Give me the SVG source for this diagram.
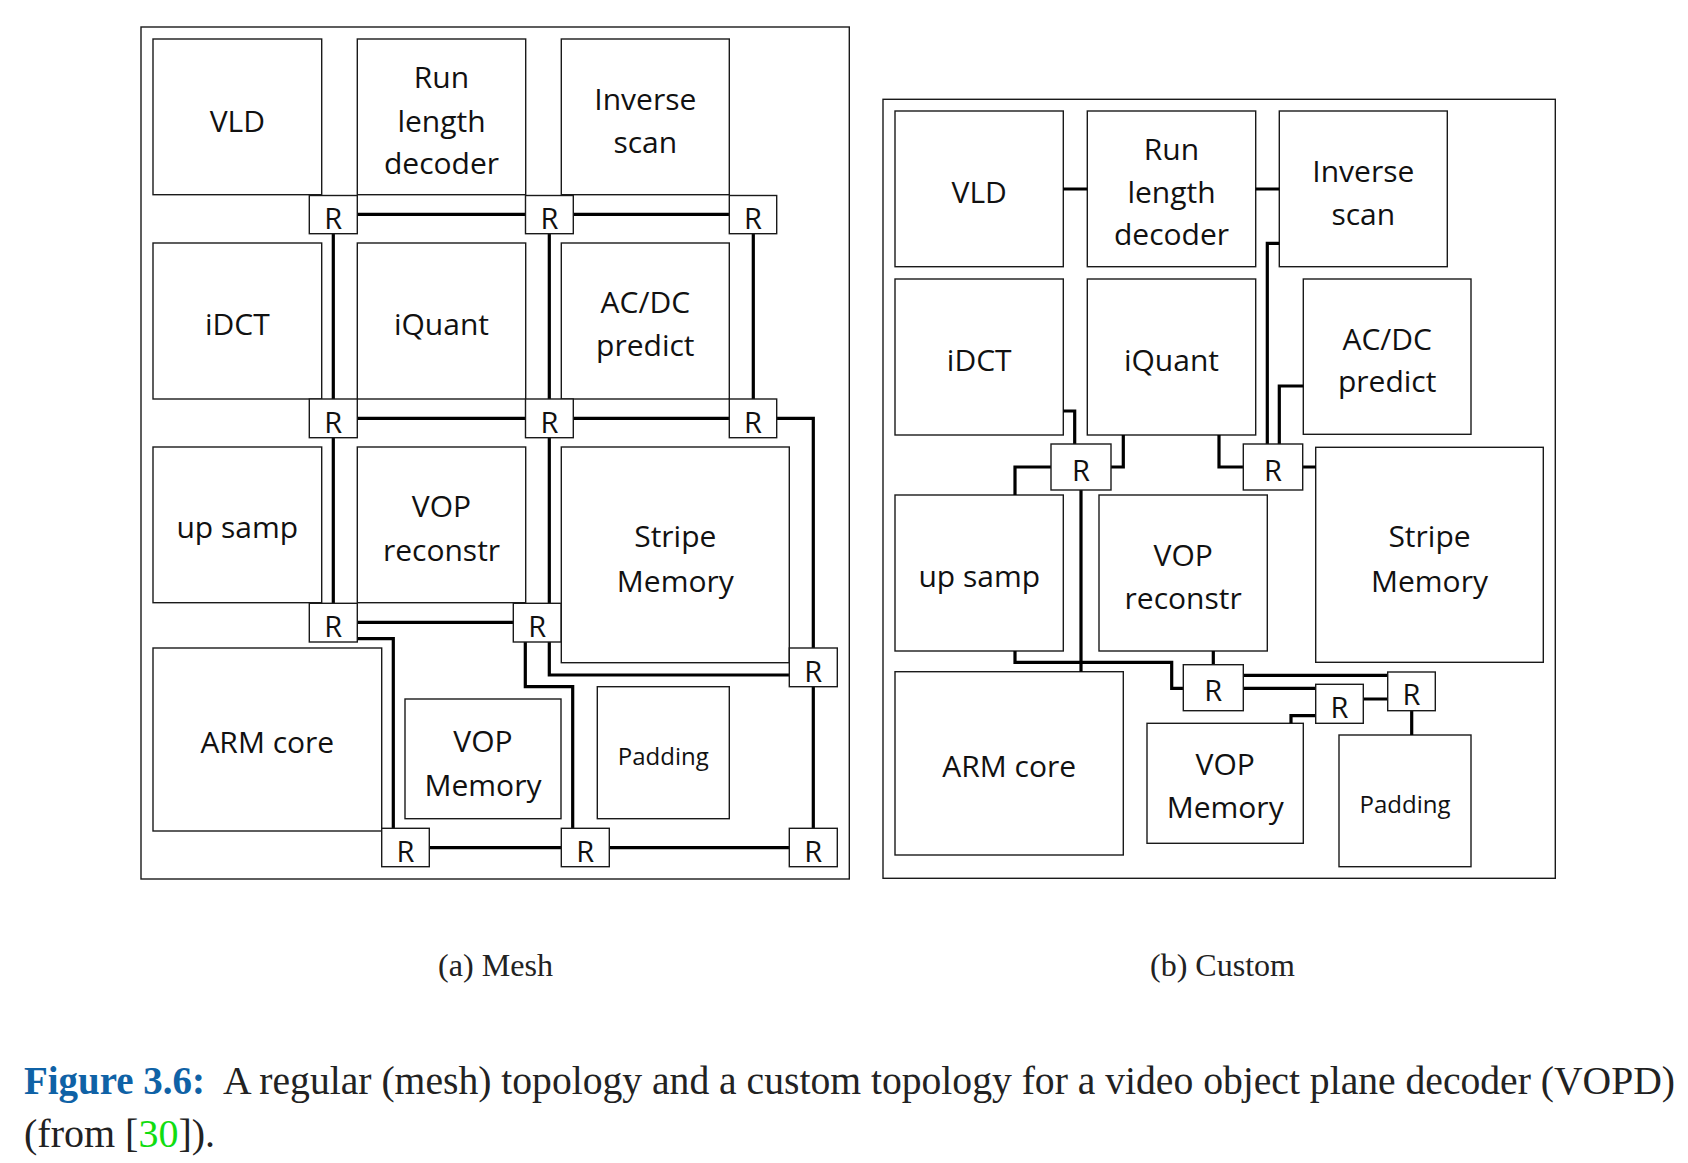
<svg xmlns="http://www.w3.org/2000/svg" width="1688" height="1163" viewBox="0 0 1688 1163">
<style>
.bx{fill:#fff;stroke:#1a1a1a;stroke-width:1.4}
.fr{fill:#fff;stroke:#1a1a1a;stroke-width:1.4}
.rt{fill:#fff;stroke:#1a1a1a;stroke-width:1.4}
.t{font-family:"Open Sans","Noto Sans",sans-serif;font-size:30px;fill:#111;text-anchor:middle}
.ts{font-family:"Open Sans","Noto Sans",sans-serif;font-size:24px;fill:#111;text-anchor:middle}
.tr{font-family:"Open Sans","Noto Sans",sans-serif;font-size:29px;fill:#111;text-anchor:middle}
.c{fill:none;stroke:#000;stroke-width:3.2}
.cap{font-family:"Liberation Serif","Times New Roman",serif;fill:#222}
</style>
<rect width="1688" height="1163" fill="#fff"/>

<!-- (a) Mesh -->
<g id="frameA"><rect class="fr" x="141" y="27" width="708.3" height="852"/></g>
<g id="a-vld"><rect class="bx" x="153" y="39" width="168.7" height="155.7"/><text class="t" x="237.3" y="132.3">VLD</text></g>
<g id="a-rld"><rect class="bx" x="357.3" y="39" width="168.4" height="155.7"/><text class="t" x="441.5" y="88.3">Run</text><text class="t" x="441.5" y="131.7">length</text><text class="t" x="441.5" y="174">decoder</text></g>
<g id="a-inv"><rect class="bx" x="561.3" y="39" width="168" height="155.7"/><text class="t" x="645.3" y="110">Inverse</text><text class="t" x="645.3" y="153.3">scan</text></g>
<g id="a-idct"><rect class="bx" x="153" y="243" width="168.7" height="156"/><text class="t" x="237.3" y="335">iDCT</text></g>
<g id="a-iq"><rect class="bx" x="357.3" y="243" width="168.4" height="156"/><text class="t" x="441.5" y="335">iQuant</text></g>
<g id="a-acdc"><rect class="bx" x="561.3" y="243" width="168" height="156"/><text class="t" x="645.3" y="313">AC/DC</text><text class="t" x="645.3" y="356">predict</text></g>
<g id="a-up"><rect class="bx" x="153" y="447" width="168.7" height="155.7"/><text class="t" x="237.3" y="538.3">up samp</text></g>
<g id="a-vopr"><rect class="bx" x="357.3" y="447" width="168.4" height="155.7"/><text class="t" x="441.5" y="517">VOP</text><text class="t" x="441.5" y="561">reconstr</text></g>
<g id="a-stripe"><rect class="bx" x="561.3" y="447" width="228" height="215.7"/><text class="t" x="675.3" y="547.3">Stripe</text><text class="t" x="675.3" y="591.7">Memory</text></g>
<g id="a-arm"><rect class="bx" x="153" y="648" width="228.7" height="183"/><text class="t" x="267.3" y="753.3">ARM core</text></g>
<g id="a-vopm"><rect class="bx" x="405" y="699" width="156" height="119.7"/><text class="t" x="483" y="751.7">VOP</text><text class="t" x="483" y="795.7">Memory</text></g>
<g id="a-pad"><rect class="bx" x="597.3" y="686.7" width="132" height="132"/><text class="ts" x="663.3" y="765">Padding</text></g>

<g id="a-connectors">
<path class="c" d="M357.3,214.3H525.5M573.3,214.3H729.3M333.3,233.7V399M549.3,233.7V399M753.3,233.7V399M357.3,418.3H525.5M573.3,418.3H729.3M776.7,418.3H813.3V648M333.3,437.7V603.3M549.3,437.7V603.3M357.3,622.3H513.3M357.3,638.7H393.3V828.3M525.3,642V686.7H572.7V828.3M549.3,642V675H789.3M813.3,686.7V828.3M429.3,847.7H561.3M609.3,847.7H789.3"/>
</g>

<g id="a-r11"><rect class="rt" x="309.3" y="195.5" width="48" height="38.2"/><text class="tr" x="333.3" y="228.8">R</text></g>
<g id="a-r12"><rect class="rt" x="525.5" y="195.5" width="47.8" height="38.2"/><text class="tr" x="549.4" y="228.8">R</text></g>
<g id="a-r13"><rect class="rt" x="729.3" y="195.5" width="47.4" height="38.2"/><text class="tr" x="753" y="228.8">R</text></g>
<g id="a-r21"><rect class="rt" x="309.3" y="399" width="48" height="38.7"/><text class="tr" x="333.3" y="432.8">R</text></g>
<g id="a-r22"><rect class="rt" x="525.5" y="399" width="47.8" height="38.7"/><text class="tr" x="549.4" y="432.8">R</text></g>
<g id="a-r23"><rect class="rt" x="729.3" y="399" width="47.4" height="38.7"/><text class="tr" x="753" y="432.8">R</text></g>
<g id="a-r31"><rect class="rt" x="309.3" y="603.3" width="48" height="38.7"/><text class="tr" x="333.3" y="637">R</text></g>
<g id="a-r32"><rect class="rt" x="513.3" y="603.3" width="47.7" height="38.7"/><text class="tr" x="537.2" y="637">R</text></g>
<g id="a-rr"><rect class="rt" x="789.3" y="648" width="48" height="38.7"/><text class="tr" x="813.3" y="681.8">R</text></g>
<g id="a-rb1"><rect class="rt" x="381.7" y="828.3" width="47.6" height="38.4"/><text class="tr" x="405.5" y="861.8">R</text></g>
<g id="a-rb2"><rect class="rt" x="561.3" y="828.3" width="48" height="38.4"/><text class="tr" x="585.3" y="861.8">R</text></g>
<g id="a-rb3"><rect class="rt" x="789.3" y="828.3" width="48" height="38.4"/><text class="tr" x="813.3" y="861.8">R</text></g>

<!-- (b) Custom -->
<g id="frameB"><rect class="fr" x="883" y="99.3" width="672.3" height="779"/></g>
<g id="b-vld"><rect class="bx" x="895" y="111" width="168.3" height="155.7"/><text class="t" x="979.2" y="203.3">VLD</text></g>
<g id="b-rld"><rect class="bx" x="1087.3" y="111" width="168.4" height="155.7"/><text class="t" x="1171.5" y="160">Run</text><text class="t" x="1171.5" y="203.3">length</text><text class="t" x="1171.5" y="245">decoder</text></g>
<g id="b-inv"><rect class="bx" x="1279.3" y="111" width="168" height="155.7"/><text class="t" x="1363.3" y="181.7">Inverse</text><text class="t" x="1363.3" y="225">scan</text></g>
<g id="b-idct"><rect class="bx" x="895" y="279" width="168.3" height="156"/><text class="t" x="979.2" y="371">iDCT</text></g>
<g id="b-iq"><rect class="bx" x="1087.3" y="279" width="168.4" height="156"/><text class="t" x="1171.5" y="371">iQuant</text></g>
<g id="b-acdc"><rect class="bx" x="1303.3" y="279" width="167.7" height="155.3"/><text class="t" x="1387.2" y="350">AC/DC</text><text class="t" x="1387.2" y="391.7">predict</text></g>
<g id="b-up"><rect class="bx" x="895" y="495" width="168.3" height="156"/><text class="t" x="979.2" y="586.7">up samp</text></g>
<g id="b-vopr"><rect class="bx" x="1099" y="495" width="168.3" height="156"/><text class="t" x="1183.2" y="566">VOP</text><text class="t" x="1183.2" y="609.3">reconstr</text></g>
<g id="b-stripe"><rect class="bx" x="1315.7" y="447.3" width="227.6" height="215"/><text class="t" x="1429.5" y="547.3">Stripe</text><text class="t" x="1429.5" y="591.7">Memory</text></g>
<g id="b-arm"><rect class="bx" x="895" y="671.7" width="228.3" height="183.3"/><text class="t" x="1009.2" y="777.3">ARM core</text></g>
<g id="b-vopm"><rect class="bx" x="1147" y="723.3" width="156.3" height="120"/><text class="t" x="1225.2" y="775">VOP</text><text class="t" x="1225.2" y="818.3">Memory</text></g>
<g id="b-pad"><rect class="bx" x="1339" y="735" width="132" height="131.7"/><text class="ts" x="1405" y="813.3">Padding</text></g>

<g id="b-connectors">
<path class="c" d="M1063.3,189H1087.3M1255.7,189H1279.3M1063.3,411H1074.7V444M1123.3,435V467H1111M1051,467H1015V495M1081,490V671.7M1219,435V467H1243.3M1279.3,243.3H1267.3V444M1303.3,386H1279.3V444M1302.7,467H1315.7M1015,651V662.3H1171.7V688.3H1183.3M1213.3,651V664.7M1243.3,675.3H1387.7M1243.3,688.3H1315.7M1363.3,699H1387.7M1291,723.3V715.7H1315.7M1411.7,710.7V735"/>
</g>

<g id="b-ra"><rect class="rt" x="1051" y="444" width="60" height="46"/><text class="tr" x="1081" y="481">R</text></g>
<g id="b-rb"><rect class="rt" x="1243.3" y="444" width="59.4" height="46"/><text class="tr" x="1273" y="481">R</text></g>
<g id="b-rc"><rect class="rt" x="1183.3" y="664.7" width="60" height="46"/><text class="tr" x="1213.3" y="701">R</text></g>
<g id="b-rd"><rect class="rt" x="1315.7" y="684.3" width="47.6" height="39"/><text class="tr" x="1339.5" y="717.6">R</text></g>
<g id="b-re"><rect class="rt" x="1387.7" y="672" width="47.6" height="38.7"/><text class="tr" x="1411.5" y="705.3">R</text></g>

<!-- captions -->
<text class="cap" x="438" y="976" font-size="32" textLength="115" lengthAdjust="spacingAndGlyphs">(a) Mesh</text>
<text class="cap" x="1150" y="976" font-size="32" textLength="145" lengthAdjust="spacingAndGlyphs">(b) Custom</text>
<text class="cap" x="24" y="1094" font-size="40" font-weight="bold" style="fill:#0f62a6" textLength="181" lengthAdjust="spacingAndGlyphs">Figure 3.6:</text>
<text class="cap" x="223" y="1094" font-size="40" textLength="1452" lengthAdjust="spacingAndGlyphs">A regular (mesh) topology and a custom topology for a video object plane decoder (VOPD)</text>
<text class="cap" x="24" y="1147" font-size="40">(from [<tspan style="fill:#11dd11">30</tspan>]).</text>
</svg>
